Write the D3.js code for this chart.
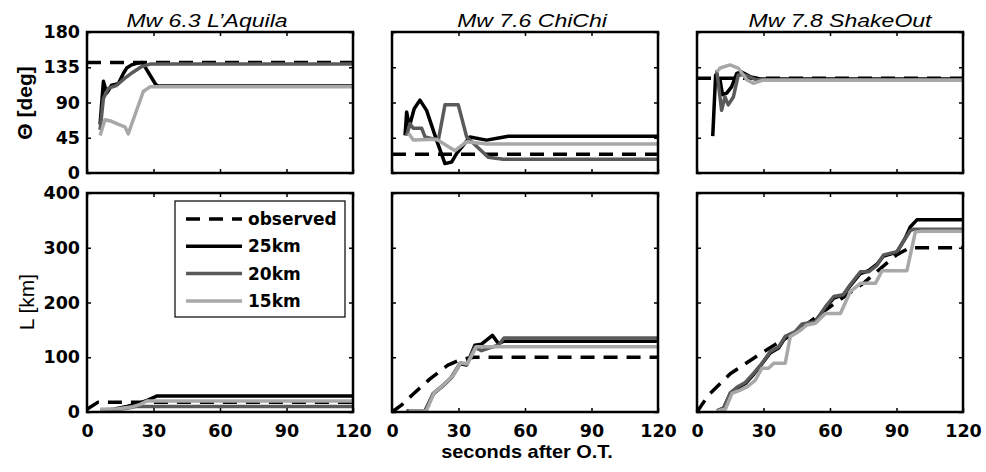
<!DOCTYPE html>
<html>
<head>
<meta charset="utf-8">
<script src="https://cdn.jsdelivr.net/npm/d3@7"></script>
<style>
  body { margin: 0; background: #fff; }
  svg { display: block; }
  .axis .tick text { font-family: "DejaVu Sans", sans-serif; font-weight: bold; font-size: 17.5px; fill: #000; }
  .axis .tick line { stroke: #000; stroke-width: 1.5; }
  .axis .domain { display: none; }
  .series { fill: none; stroke-width: 3.5; stroke-linejoin: round; }
</style>
</head>
<body>
<div id="chart"></div>
<script>

///// Data

let timeTicks = [0, 30, 60, 90, 120],
    angleTicks = [0, 45, 90, 135, 180],
    lengthTicks = [0, 100, 200, 300, 400];

let events = ["Mw 6.3 L\u2019Aquila", "Mw 7.6 ChiChi", "Mw 7.8 ShakeOut"],
    seriesNames = ["observed", "25km", "20km", "15km"];

// every series is [seconds after O.T., value]
// Theta [deg]
let aquilaThetaObs = [[0, 141], [120, 141]],
    aquilaTheta25 = [[5.9, 62], [7.4, 117], [8.9, 102], [11.1, 112], [14.1, 114], [16.4, 127], [17.9, 134], [20.1, 138], [22.5, 140], [25, 141], [31, 113], [32, 111], [120, 111]],
    aquilaTheta20 = [[5.9, 55], [7.4, 95], [9.6, 108], [13.4, 112], [17.1, 121], [20.9, 129], [24.7, 136], [28.4, 139], [120, 139]],
    aquilaTheta15 = [[5.9, 48], [8.1, 68], [11.1, 66], [13.4, 63], [17.1, 59], [18.6, 50], [25.4, 104], [28.4, 110], [120, 110]];

let chichiThetaObs = [[0, 24], [120, 24]],
    chichiTheta25 = [[5.9, 48], [6.6, 78], [7.8, 59], [10, 82], [12.6, 93], [15.6, 80], [20.1, 42], [23.9, 12], [26.9, 14], [29.2, 25], [35.2, 46], [42.7, 42], [48.7, 45], [52.5, 47], [120, 47]],
    chichiTheta20 = [[6.6, 48], [8.1, 63], [9.6, 57], [13.4, 57], [14.9, 46], [20.9, 42], [23.9, 87], [29.9, 87], [33.7, 46], [43.4, 20], [50.2, 17.5], [120, 17.5]],
    chichiTheta15 = [[7.4, 51], [9.6, 42], [20.1, 43], [28.4, 28.5], [33.7, 40], [42.7, 37], [120, 37]];

let shakeoutThetaObs = [[0, 121], [120, 121]],
    shakeoutTheta25 = [[7.1, 47], [8.4, 125], [10.4, 119], [11.5, 100], [13.4, 102], [15.6, 110], [17.9, 127], [20.1, 129], [23.9, 123], [28.4, 120], [120, 120]],
    shakeoutTheta20 = [[8.9, 131], [11.1, 80], [12.6, 97], [14.1, 87], [16.4, 97], [18.6, 125], [21.6, 125], [26.9, 119], [120, 119]],
    shakeoutTheta15 = [[8.9, 129], [10.4, 134], [14.9, 138], [18.6, 134], [22.4, 119], [25.4, 114.5], [29.9, 118.5], [120, 118.5]];

// L [km]
let aquilaLengthObs = [[0, 5], [5, 18], [120, 18]],
    aquilaLength25 = [[6, 2], [12, 5], [18, 10], [23, 15], [27, 21], [31.4, 29], [120, 29]],
    aquilaLength20 = [[6, 2], [12, 4], [18, 7], [22, 10], [120, 10]],
    aquilaLength15 = [[6, 5], [14, 6], [20, 9], [24, 14], [27, 20], [120, 20]];

let chichiLengthObs = [[0, 0], [4.4, 13], [9.6, 33], [17, 60], [25, 85], [30, 94], [34, 98], [37, 100], [120, 100]],
    chichiLength25 = [[6.6, 2], [14.9, 2], [18.6, 33], [23.1, 48], [26.9, 63], [30.7, 88], [33.7, 86], [37.4, 122], [40.4, 124], [45.3, 140], [48, 125], [50.2, 129], [120, 129]],
    chichiLength20 = [[6.6, 2], [14.9, 2], [18.6, 34], [23.1, 49], [26.9, 64], [30.7, 89], [33.7, 87], [37.4, 118], [40.4, 112], [43, 116], [48, 122], [50.5, 135], [120, 135]],
    chichiLength15 = [[7.5, 2], [15.5, 2], [19, 35], [23.5, 50], [27.5, 66], [31, 90], [34, 88], [38, 119], [120, 119]];

let shakeoutLengthObs = [[0, 0], [5, 30], [15, 70], [30, 110], [45, 147], [60, 192], [75, 235], [90, 287], [96, 300], [120, 300]],
    shakeoutLength25 = [[9, 2], [12, 7], [15, 33], [18, 43], [21.8, 52], [25.6, 69], [29.3, 88], [33, 108], [36.8, 117], [39.8, 136], [44.4, 146], [47.4, 158], [53.4, 166], [57.9, 190], [61.7, 208], [66, 214], [69, 230], [73.7, 253], [77.4, 258], [81.2, 270], [84.2, 285], [90.2, 292], [94, 318], [96.2, 338], [99.2, 351], [120, 351]],
    shakeoutLength20 = [[9, 2], [12, 7], [15, 35], [18, 45], [21.8, 54], [25.6, 71], [29.3, 89], [33, 110], [36.8, 119], [39.8, 138], [44.4, 147], [47.4, 161], [53.4, 165], [57.9, 192], [61.7, 211], [66, 214], [69, 232], [73.7, 256], [77.4, 256], [81.2, 268], [84.2, 287], [90.2, 293], [94, 317], [96.2, 331], [97.7, 334], [120, 334]],
    shakeoutLength15 = [[9, 2], [12.8, 5], [15.8, 34], [19.5, 40], [22.6, 46], [26.3, 58], [29.3, 80], [32.3, 80], [34.6, 89], [39.8, 89], [42.1, 138], [45.9, 147], [49.6, 159], [53.4, 162], [57.9, 180], [64.7, 180], [69.2, 220], [73.7, 235], [80.5, 235], [83.5, 258], [94.7, 258], [98.5, 329], [101.5, 330], [120, 330]];


///// Layout

let width = 986,
    height = 472,
    colLeft = [87, 392, 697],
    panelWidth = 266,
    rows = [{ top: 32, h: 141 }, { top: 193, h: 219 }],
    titleShift = [-13, 7, 10],
    textStretch = 1.28;

let seriesStyle = [
    { color: "#000", dash: "14,9" },
    { color: "#000", dash: null },
    { color: "#5a5a5a", dash: null },
    { color: "#a8a8a8", dash: null }
];

let panels = [
    [aquilaThetaObs, aquilaTheta25, aquilaTheta20, aquilaTheta15],
    [chichiThetaObs, chichiTheta25, chichiTheta20, chichiTheta15],
    [shakeoutThetaObs, shakeoutTheta25, shakeoutTheta20, shakeoutTheta15],
    [aquilaLengthObs, aquilaLength25, aquilaLength20, aquilaLength15],
    [chichiLengthObs, chichiLength25, chichiLength20, chichiLength15],
    [shakeoutLengthObs, shakeoutLength25, shakeoutLength20, shakeoutLength15]
];

let svg = d3.select("#chart")
    .append("svg")
    .attr("width", width)
    .attr("height", height);

let x = d3.scaleLinear().domain([0, 120]).range([0, panelWidth]);

panels.forEach(function(series, i) {
    let col = i % 3,
        row = Math.floor(i / 3),
        h = rows[row].h,
        y = d3.scaleLinear().domain(row === 0 ? [0, 180] : [0, 400]).range([h, 0]),
        yTicks = row === 0 ? angleTicks : lengthTicks;

    let g = svg.append("g")
        .attr("transform", "translate(" + colLeft[col] + "," + rows[row].top + ")");

    let line = d3.line()
        .x(function(d) { return x(d[0]); })
        .y(function(d) { return y(d[1]); });

    series.forEach(function(data, k) {
        g.append("path")
            .datum(data)
            .attr("class", "series")
            .style("stroke", seriesStyle[k].color)
            .style("stroke-dasharray", seriesStyle[k].dash)
            .attr("d", line);
    });

    // inner ticks on all four sides
    g.append("g")
        .attr("class", "axis")
        .attr("transform", "translate(0," + h + ")")
        .call(d3.axisBottom(x).tickValues(timeTicks).tickSize(-4).tickPadding(13)
            .tickFormat(row === 1 ? d3.format("d") : ""));
    g.append("g")
        .attr("class", "axis")
        .call(d3.axisTop(x).tickValues(timeTicks).tickSize(-4).tickFormat(""));
    g.append("g")
        .attr("class", "axis")
        .call(d3.axisLeft(y).tickValues(yTicks).tickSize(-4).tickPadding(7)
            .tickFormat(col === 0 ? d3.format("d") : ""));
    g.append("g")
        .attr("class", "axis")
        .attr("transform", "translate(" + panelWidth + ",0)")
        .call(d3.axisRight(y).tickValues(yTicks).tickSize(-4).tickFormat(""));

    // box
    g.append("rect")
        .attr("width", panelWidth)
        .attr("height", h)
        .style("fill", "none")
        .style("stroke", "#000")
        .style("stroke-width", 2.5);

    if (row === 0) {
        g.append("text")
            .attr("transform", "translate(" + (panelWidth / 2 + titleShift[col]) + ",-5) scale(" + textStretch + ",1)")
            .attr("text-anchor", "middle")
            .style("font-family", "'Liberation Sans', Arial, sans-serif")
            .style("font-style", "italic")
            .style("font-size", "18px")
            .text(events[col]);
    }

    // legend
    if (i === 3) {
        let legend = g.append("g").attr("transform", "translate(88,8)");
        legend.append("rect")
            .attr("width", 170)
            .attr("height", 116)
            .style("fill", "#fff")
            .style("stroke", "#000")
            .style("stroke-width", 1.2);
        seriesNames.forEach(function(name, k) {
            let ly = 18 + k * 27.3;
            legend.append("line")
                .attr("x1", 11).attr("x2", 67)
                .attr("y1", ly).attr("y2", ly)
                .attr("class", "series")
                .style("stroke", seriesStyle[k].color)
                .style("stroke-dasharray", seriesStyle[k].dash);
            legend.append("text")
                .attr("x", 73)
                .attr("y", ly)
                .attr("dy", "0.36em")
                .style("font-family", "'DejaVu Sans', sans-serif")
                .style("font-weight", "bold")
                .style("font-size", "17px")
                .text(name);
        });
    }
});

// y labels
svg.append("text")
    .attr("transform", "translate(32,103) rotate(-90)")
    .attr("text-anchor", "middle")
    .style("font-family", "'Liberation Sans', Arial, sans-serif")
    .style("font-weight", "bold")
    .style("font-size", "21px")
    .text("\u0398 [deg]");

svg.append("text")
    .attr("transform", "translate(34,302) rotate(-90)")
    .attr("text-anchor", "middle")
    .style("font-family", "'Liberation Sans', Arial, sans-serif")
    .style("font-size", "21px")
    .text("L [km]");

// x label
svg.append("text")
    .attr("transform", "translate(527,458) scale(1.05,1)")
    .attr("text-anchor", "middle")
    .style("font-family", "'Liberation Sans', Arial, sans-serif")
    .style("font-weight", "bold")
    .style("font-size", "19px")
    .text("seconds after O.T.");

</script>
</body>
</html>
